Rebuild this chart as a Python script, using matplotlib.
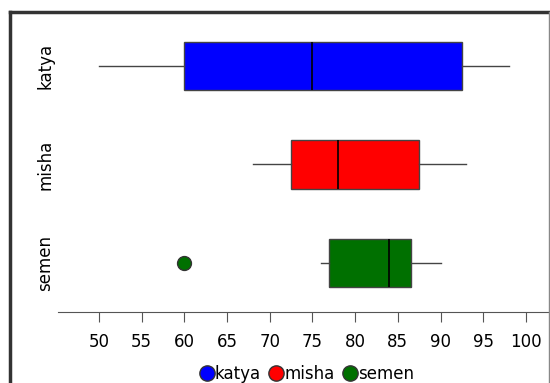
import matplotlib.pyplot as plt
from matplotlib.lines import Line2D

# five-number summaries
names = ['katya', 'misha', 'semen']
colors = ['#0000ff', '#ff0000', '#007000']
whislo = [50, 68, 76]
q1 = [60, 72.5, 77]
med = [75, 78, 84]
q3 = [92.5, 87.5, 86.5]
whishi = [98, 93, 90]
fliers = [[], [], [60]]
xticks = [50, 55, 60, 65, 70, 75, 80, 85, 90, 95, 100]

fig = plt.figure(figsize=(5.5, 3.83), dpi=100)
ax = fig.add_axes([10 / 550, 71 / 383, 539 / 550, 300 / 383])

stats = []
for i in range(len(names)):
    stats.append(dict(label=names[i], whislo=whislo[i], q1=q1[i], med=med[i],
                      q3=q3[i], whishi=whishi[i], fliers=fliers[i]))

pos = [3, 2, 1]
bp = ax.bxp(stats, positions=pos, vert=False, widths=0.49, patch_artist=True,
            showcaps=False,
            boxprops=dict(edgecolor='#444444', linewidth=1),
            whiskerprops=dict(color='#444444', linewidth=1),
            medianprops=dict(color='black', linewidth=1.2))
for i, b in enumerate(bp['boxes']):
    b.set_facecolor(colors[i])
for i, f in enumerate(bp['fliers']):
    f.set(marker='o', markerfacecolor=colors[i], markeredgecolor='#333333',
          markersize=10, markeredgewidth=1)

ax.set_xlim(39.6, 102.7)
ax.set_ylim(0.5, 3.55)
ax.set_xticks(xticks)
ax.set_xticklabels([str(t) for t in xticks], fontsize=12)
ax.tick_params(axis='x', direction='out', length=7, color='#555555', pad=8)
ax.set_yticks([])

for s in ['left', 'top', 'right']:
    ax.spines[s].set_visible(False)
ax.spines['bottom'].set_bounds(45.2, 102.7)
ax.spines['bottom'].set_color('#555555')

# category labels inside the frame
for i, n in enumerate(names):
    ax.text(43.7, pos[i], n, rotation=90, ha='center', va='center', fontsize=12)

# outer frame
fig.add_artist(Line2D([10 / 550, 10 / 550], [0, 371 / 383], color='#333333', lw=2.5))
fig.add_artist(Line2D([10 / 550, 549 / 550], [371 / 383, 371 / 383], color='#333333', lw=2.5))
fig.add_artist(Line2D([549 / 550, 549 / 550], [0, 371 / 383], color='#888888', lw=1))

handles = [Line2D([], [], marker='o', linestyle='', markersize=11,
                  markerfacecolor=c, markeredgecolor='#333333') for c in colors]
fig.legend(handles, names, loc='center', bbox_to_anchor=(0.555, 9 / 383), ncol=3,
           frameon=False, fontsize=12, handletextpad=-0.1, columnspacing=0.3,
           handlelength=1.2, borderaxespad=0)

fig.savefig('out.png', dpi=100)
